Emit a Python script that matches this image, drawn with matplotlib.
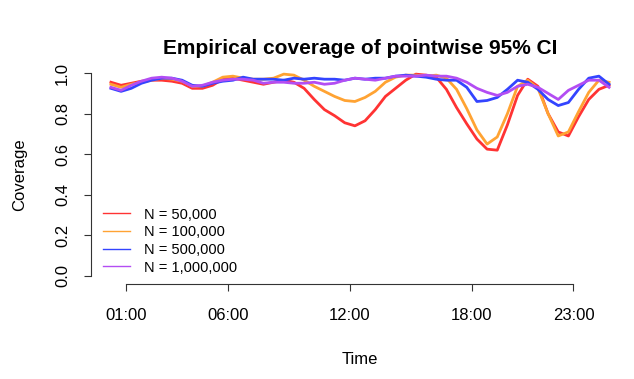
#!/usr/bin/env python
import matplotlib
matplotlib.use("Agg")
import matplotlib.pyplot as plt
from matplotlib.lines import Line2D

plt.rcParams["font.family"] = ["Liberation Sans", "DejaVu Sans"]

### Data (hours of day) ###
hours = [0.25 + 0.5 * i for i in range(50)]

cov_50k = [0.955, 0.94, 0.95, 0.96, 0.965, 0.965, 0.96, 0.95, 0.925, 0.925,
           0.94, 0.97, 0.975, 0.965, 0.955, 0.945, 0.955, 0.965, 0.955, 0.925,
           0.87, 0.82, 0.79, 0.755, 0.74, 0.765, 0.82, 0.885, 0.925, 0.965,
           0.995, 0.99, 0.98, 0.92, 0.83, 0.75, 0.675, 0.625, 0.62, 0.745,
           0.89, 0.97, 0.935, 0.80, 0.71, 0.69, 0.785, 0.87, 0.92, 0.94]
cov_100k = [0.945, 0.93, 0.945, 0.955, 0.965, 0.975, 0.97, 0.96, 0.935, 0.935,
            0.955, 0.98, 0.985, 0.975, 0.97, 0.97, 0.975, 0.995, 0.99, 0.965,
            0.935, 0.91, 0.885, 0.865, 0.86, 0.88, 0.91, 0.955, 0.98, 0.99,
            0.99, 0.985, 0.99, 0.975, 0.92, 0.825, 0.72, 0.65, 0.685, 0.80,
            0.935, 0.965, 0.925, 0.80, 0.69, 0.71, 0.81, 0.905, 0.965, 0.955]
cov_500k = [0.925, 0.91, 0.925, 0.95, 0.965, 0.975, 0.975, 0.965, 0.94, 0.935,
            0.95, 0.96, 0.965, 0.98, 0.97, 0.97, 0.97, 0.965, 0.975, 0.97,
            0.975, 0.97, 0.97, 0.965, 0.975, 0.97, 0.975, 0.975, 0.985, 0.99,
            0.985, 0.98, 0.97, 0.965, 0.965, 0.93, 0.86, 0.865, 0.88, 0.92,
            0.965, 0.955, 0.92, 0.87, 0.84, 0.855, 0.92, 0.975, 0.985, 0.945]
cov_1m = [0.93, 0.915, 0.94, 0.96, 0.975, 0.98, 0.975, 0.96, 0.935, 0.94,
          0.955, 0.965, 0.97, 0.97, 0.965, 0.95, 0.955, 0.955, 0.95, 0.95,
          0.955, 0.945, 0.95, 0.965, 0.975, 0.97, 0.965, 0.975, 0.985, 0.985,
          0.985, 0.99, 0.985, 0.985, 0.975, 0.955, 0.925, 0.905, 0.89, 0.905,
          0.935, 0.945, 0.93, 0.90, 0.87, 0.915, 0.94, 0.965, 0.965, 0.93]

series = [cov_50k, cov_100k, cov_500k, cov_1m]
labels = ["N = 50,000", "N = 100,000", "N = 500,000", "N = 1,000,000"]
colors = ["#ff3333", "#ffa333", "#3344ff", "#b34df3"]

tick_hours = [1, 6, 12, 18, 23]
tick_labels = ["01:00", "06:00", "12:00", "18:00", "23:00"]

### Plot ###
fig = plt.figure(figsize=(6.34, 3.79), dpi=100)
ax = fig.add_axes([91 / 634, 1 - 284 / 379, 538 / 634, 219 / 379])

for vals, col in zip(series, colors):
    ax.plot(hours, vals, color=col, lw=2)

# R style padding of 4%
span = hours[-1] - hours[0]
ax.set_xlim(hours[0] - 0.04 * span, hours[-1] + 0.04 * span)
ax.set_ylim(-0.04, 1.04)

for side in ["top", "right"]:
    ax.spines[side].set_visible(False)
ax.spines["left"].set_bounds(0, 1)
ax.spines["bottom"].set_bounds(tick_hours[0], tick_hours[-1])
for side in ["left", "bottom"]:
    ax.spines[side].set_linewidth(0.8)
    ax.spines[side].set_color("#333333")

ax.set_xticks(tick_hours)
ax.set_xticklabels(tick_labels)
ax.set_yticks([0, 0.2, 0.4, 0.6, 0.8, 1.0])
ax.set_yticklabels(["0.0", "0.2", "0.4", "0.6", "0.8", "1.0"], rotation=90, va="center")
ax.tick_params(axis="both", length=5, width=0.8, color="#333333", labelsize=12)
ax.tick_params(axis="x", pad=12)
ax.tick_params(axis="y", pad=10)

ax.set_xlabel("Time", fontsize=12, labelpad=21)
ax.set_ylabel("Coverage", fontsize=12, labelpad=20.5)
ax.set_title("Empirical coverage of pointwise 95% CI", fontsize=15,
             fontweight="bold", pad=8)

handles = [Line2D([0], [0], color=c, lw=1) for c in colors]
ax.legend(handles, labels, loc="lower left", frameon=False, fontsize=10.5,
          bbox_to_anchor=(0.0, -0.01), handlelength=1.9, handletextpad=0.9,
          labelspacing=0.25, borderpad=0.3)

fig.savefig("out.png", dpi=100)
